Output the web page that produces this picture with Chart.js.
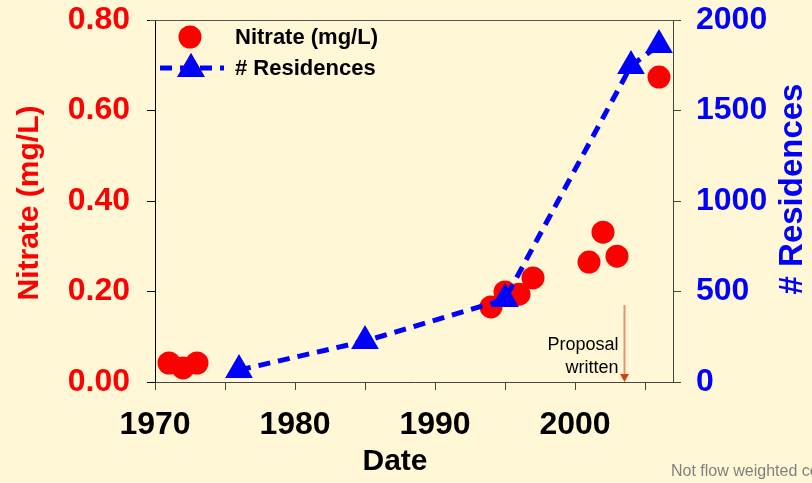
<!DOCTYPE html>
<html>
<head>
<meta charset="utf-8">
<script src="https://cdn.jsdelivr.net/npm/chart.js@4/dist/chart.umd.min.js"></script>
<style>
  html, body { margin: 0; padding: 0; background: #fff7d6; }
  canvas { display: block; }
</style>
</head>
<body>
<canvas id="chart" width="812" height="483"></canvas>
<script>
// data
const nitrateYears = [1971, 1972, 1973, 1994, 1995, 1996, 1997, 2001, 2002, 2003, 2006];
const nitrateValues = [0.042, 0.031, 0.042, 0.166, 0.199, 0.194, 0.23, 0.265, 0.331, 0.278, 0.674];
const residenceYears = [1976, 1985, 1995, 2004, 2006];
const residenceCounts = [66, 226, 458, 1746, 1862];
const yearLabels = [1970, 1980, 1990, 2000];
const proposalYear = 2003.5;
const proposalLines = ['Proposal', 'written'];

const FONT = 'Arial, "Liberation Sans", sans-serif';
const bg = '#fff7d6';

const decor = {
  id: 'decor',
  beforeDraw(chart) {
    const ctx = chart.ctx;
    ctx.save();
    ctx.fillStyle = bg;
    ctx.fillRect(0, 0, chart.width, chart.height);
    ctx.restore();
  },
  afterDraw(chart) {
    const ctx = chart.ctx;
    const a = chart.chartArea;
    const x = chart.scales.x, y = chart.scales.y;
    ctx.save();

    // top frame line
    ctx.strokeStyle = '#555';
    ctx.lineWidth = 1;
    ctx.beginPath();
    ctx.moveTo(a.left - 5, a.top + 0.5);
    ctx.lineTo(a.right + 5, a.top + 0.5);
    ctx.stroke();

    // axis titles
    ctx.font = 'bold 30px ' + FONT;
    ctx.textAlign = 'center';
    ctx.textBaseline = 'middle';
    ctx.fillStyle = '#ff0000';
    ctx.save();
    ctx.translate(30, 203);
    ctx.rotate(-Math.PI / 2);
    ctx.fillText('Nitrate (mg/L)', 0, 0);
    ctx.restore();

    ctx.fillStyle = '#0000ff';
    ctx.font = 'bold 33px ' + FONT;
    ctx.save();
    ctx.translate(793, 189);
    ctx.rotate(-Math.PI / 2);
    ctx.fillText('# Residences', 0, 0);
    ctx.restore();

    ctx.fillStyle = '#000';
    ctx.font = 'bold 30px ' + FONT;
    ctx.fillText('Date', 395, 462);

    // footnote
    ctx.fillStyle = '#808080';
    ctx.font = '16px ' + FONT;
    ctx.textAlign = 'left';
    ctx.textBaseline = 'alphabetic';
    ctx.fillText('Not flow weighted concentrations', 671, 476);

    // proposal annotation
    const px = Math.round(x.getPixelForValue(proposalYear)) + 0.5;
    const py0 = y.getPixelForValue(0.17);
    const py1 = y.getPixelForValue(0);
    ctx.strokeStyle = '#e8916a';
    ctx.lineWidth = 2;
    ctx.beginPath();
    ctx.moveTo(px, py0);
    ctx.lineTo(px, py1 - 6);
    ctx.stroke();
    ctx.fillStyle = '#d0401a';
    ctx.beginPath();
    ctx.moveTo(px - 4.5, py1 - 8);
    ctx.lineTo(px + 4.5, py1 - 8);
    ctx.lineTo(px, py1);
    ctx.closePath();
    ctx.fill();

    ctx.fillStyle = '#000';
    ctx.font = '18px ' + FONT;
    ctx.textAlign = 'right';
    ctx.fillText(proposalLines[0], px - 6, 350);
    ctx.fillText(proposalLines[1], px - 6, 373);

    // legend
    const n = chart.data.datasets[0], r = chart.data.datasets[1];
    ctx.fillStyle = n.backgroundColor;
    ctx.beginPath();
    ctx.arc(190, 37, n.pointRadius, 0, Math.PI * 2);
    ctx.fill();

    ctx.strokeStyle = r.borderColor;
    ctx.lineWidth = r.borderWidth;
    ctx.setLineDash(r.borderDash);
    ctx.beginPath();
    ctx.moveTo(160, 68);
    ctx.lineTo(224, 68);
    ctx.stroke();
    ctx.setLineDash([]);
    Chart.helpers.drawPoint(ctx, { pointStyle: 'triangle', radius: r.pointRadius, rotation: 0, borderWidth: 0 }, 191, 69);
    ctx.fillStyle = r.backgroundColor;
    ctx.fill();

    ctx.fillStyle = '#000';
    ctx.font = 'bold 22px ' + FONT;
    ctx.textAlign = 'left';
    ctx.textBaseline = 'middle';
    ctx.fillText('Nitrate (mg/L)', 235, 38);
    ctx.fillText('# Residences', 235, 69);

    ctx.restore();
  }
};

const noPad = s => { s.paddingTop = 0; s.paddingBottom = 0; s.paddingLeft = 0; s.paddingRight = 0; };

new Chart(document.getElementById('chart'), {
  type: 'scatter',
  data: {
    datasets: [
      {
        label: 'Nitrate (mg/L)',
        data: nitrateYears.map((yr, i) => ({ x: yr, y: nitrateValues[i] })),
        yAxisID: 'y',
        backgroundColor: '#ff0000',
        borderWidth: 0,
        pointRadius: 11.5,
        pointHoverRadius: 11.5,
        showLine: false,
        order: 1,
        clip: false
      },
      {
        label: '# Residences',
        data: residenceYears.map((yr, i) => ({ x: yr, y: residenceCounts[i] })),
        yAxisID: 'y2',
        backgroundColor: '#0000ff',
        borderColor: '#0000ff',
        borderWidth: 5,
        borderDash: [12, 8],
        pointStyle: 'triangle',
        pointRadius: 16,
        pointHoverRadius: 16,
        pointBorderWidth: 0,
        showLine: true,
        order: 0,
        clip: false
      }
    ]
  },
  options: {
    responsive: false,
    animation: false,
    devicePixelRatio: 1,
    layout: { padding: { top: 20, left: 0, right: 0, bottom: 0 } },
    plugins: { legend: { display: false }, tooltip: { enabled: false } },
    scales: {
      x: {
        type: 'linear',
        min: 1970,
        max: 2007,
        afterFit: s => { s.height = 101; noPad(s); },
        afterBuildTicks: s => {
          const t = [];
          for (let v = 1970; v <= 2005; v += 5) t.push({ value: v });
          s.ticks = t;
        },
        ticks: {
          callback: v => yearLabels.includes(v) ? String(v) : '',
          color: '#000',
          font: { family: FONT, size: 32, weight: 'bold' },
          padding: 16,
          maxRotation: 0,
          autoSkip: false
        },
        grid: { drawOnChartArea: false, drawTicks: true, tickLength: 8, color: '#444' },
        border: { display: true, color: '#444', width: 1 }
      },
      y: {
        position: 'left',
        min: 0,
        max: 0.8,
        afterFit: s => { s.width = 155; noPad(s); },
        ticks: {
          stepSize: 0.2,
          callback: v => v.toFixed(2),
          color: '#ff0000',
          font: { family: FONT, size: 32, weight: 'bold' },
          padding: 17
        },
        grid: { drawOnChartArea: false, drawTicks: true, tickLength: 8, color: '#000' },
        border: { display: true, color: '#000', width: 1 }
      },
      y2: {
        position: 'right',
        min: 0,
        max: 2000,
        afterFit: s => { s.width = 139; noPad(s); },
        ticks: {
          stepSize: 500,
          callback: v => String(v),
          color: '#0000ff',
          font: { family: FONT, size: 32, weight: 'bold' },
          padding: 15
        },
        grid: { drawOnChartArea: false, drawTicks: true, tickLength: 8, color: '#444' },
        border: { display: true, color: '#444', width: 1 }
      }
    }
  },
  plugins: [decor]
});
</script>
</body>
</html>
